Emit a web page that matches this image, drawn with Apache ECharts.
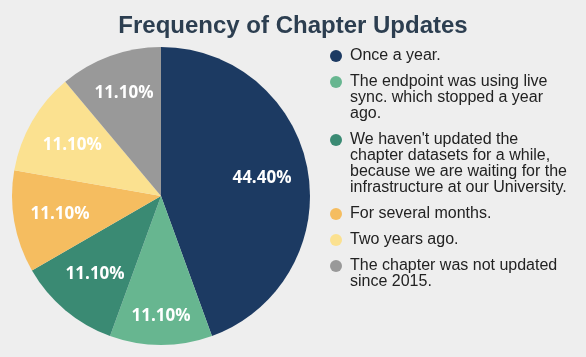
<!DOCTYPE html>
<html>
<head>
<meta charset="utf-8">
<script src="https://cdn.jsdelivr.net/npm/echarts@6/dist/echarts.min.js"></script>
<style>
html,body{margin:0;padding:0;background:#eeeeee;}
#chart{width:586px;height:357px;}
</style>
</head>
<body>
<div id="chart"></div>
<script>
const titleText = 'Frequency of Chapter Updates';
const categories = [
  'Once a year.',
  'The endpoint was using live\nsync. which stopped a year\nago.',
  "We haven't updated the\nchapter datasets for a while,\nbecause we are waiting for the\ninfrastructure at our University.",
  'For several months.',
  'Two years ago.',
  'The chapter was not updated\nsince 2015.'
];
const values = [44.4, 11.1, 11.1, 11.1, 11.1, 11.1];
const colors = ['#1c3a62', '#67b690', '#3a8a73', '#f5bd60', '#fbe190', '#999999'];

const chart = echarts.init(document.getElementById('chart'), null, {renderer: 'canvas'});

const pieData = categories.map((c, i) => ({name: c, value: values[i], itemStyle: {color: colors[i]}}));
const labelData = categories.map((c, i) => ({name: c, value: values[i]}));

const rich = {
  s: {width: 12, height: 12, lineHeight: 16},
  g: {width: 8, height: 12, lineHeight: 16},
  t: {fontSize: 16, lineHeight: 16, color: '#222222', fontFamily: 'Liberation Sans, Arial, sans-serif'}
};
colors.forEach((c, i) => {
  rich['d' + i] = {width: 12, height: 12, lineHeight: 16, borderRadius: 6, backgroundColor: c};
});

// small label nudges (style only)
const labelNudge = {1: [0, 18], 5: [-2, -7]};

chart.setOption({
  backgroundColor: '#eeeeee',
  animation: false,
  title: {
    text: titleText,
    left: 'center',
    top: 9,
    textStyle: {fontSize: 24, fontWeight: 'bold', color: '#2c3e50', fontFamily: 'Liberation Sans, Arial, sans-serif'}
  },
  legend: {
    orient: 'vertical',
    left: 325,
    top: 48,
    padding: 0,
    itemGap: 10,
    itemWidth: 0,
    itemHeight: 16,
    selectedMode: false,
    data: categories,
    formatter: function (name) {
      const i = categories.indexOf(name);
      return name.split('\n').map((l, k) => (k === 0 ? '{d' + i + '|}' : '{s|}') + '{g|}{t|' + l + '}').join('\n');
    },
    textStyle: {fontSize: 16, lineHeight: 16, color: '#222222', fontFamily: 'Liberation Sans, Arial, sans-serif', rich: rich}
  },
  series: [
    {
      type: 'pie',
      center: [161, 196],
      radius: [0, 149],
      startAngle: 90,
      clockwise: true,
      silent: true,
      label: {show: false},
      labelLine: {show: false},
      emphasis: {disabled: true},
      data: pieData
    },
    {
      type: 'pie',
      center: [161, 196],
      radius: [50, 149],
      startAngle: 90,
      clockwise: true,
      silent: true,
      itemStyle: {color: 'rgba(0,0,0,0)'},
      label: {
        show: true,
        position: 'inside',
        formatter: p => p.value.toFixed(2) + '%',
        color: '#ffffff',
        fontSize: 17,
        fontWeight: 'bold',
        fontFamily: 'Open Sans, sans-serif'
      },
      labelLayout: function (params) {
        const n = labelNudge[params.dataIndex];
        return n ? {dx: n[0], dy: n[1]} : {};
      },
      labelLine: {show: false},
      emphasis: {disabled: true},
      data: labelData
    }
  ]
});
</script>
</body>
</html>
